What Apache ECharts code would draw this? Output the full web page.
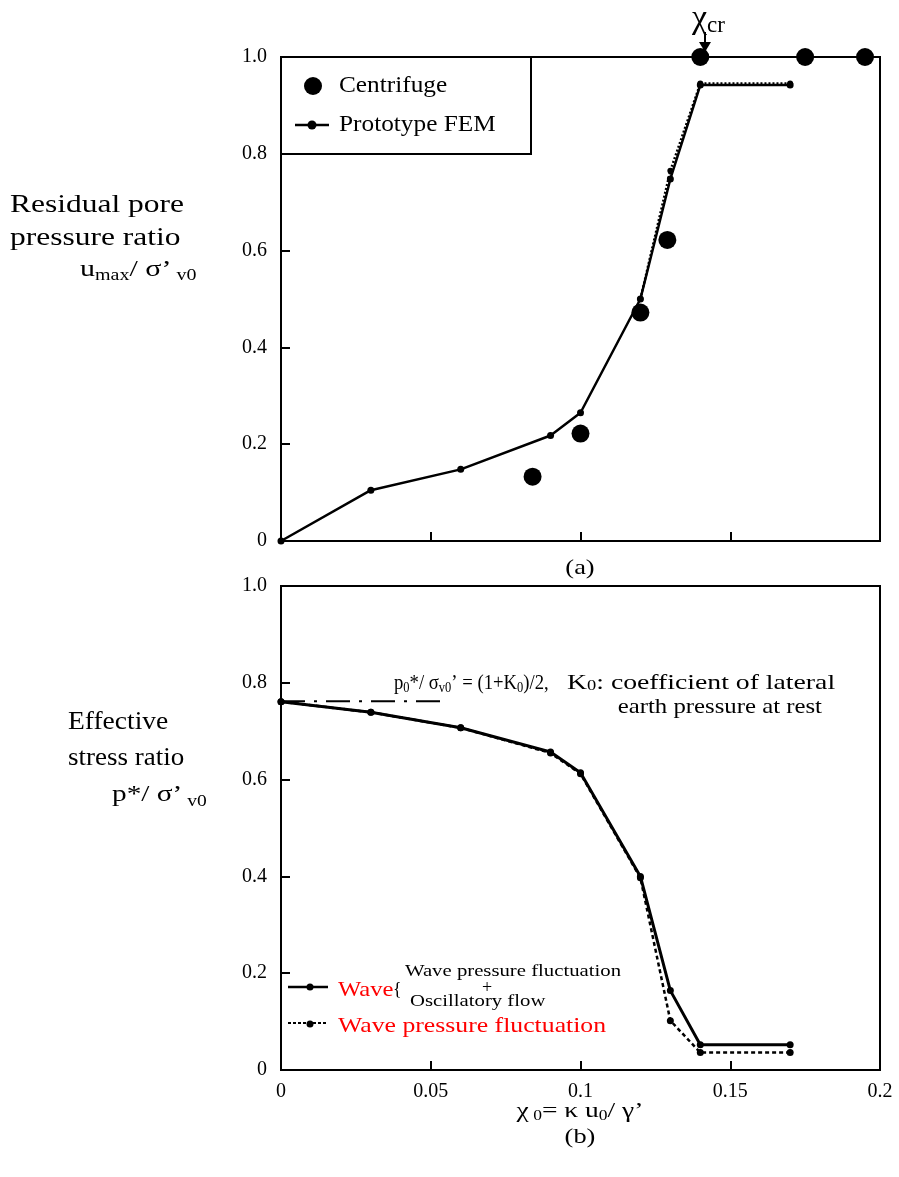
<!DOCTYPE html>
<html>
<head>
<meta charset="utf-8">
<script src="https://cdn.jsdelivr.net/npm/echarts@6/dist/echarts.min.js"></script>
<style>
  html, body { margin: 0; padding: 0; background: #fff; }
  #main { width: 899px; height: 1177px; }
</style>
</head>
<body>
<div id="main"></div>
<script>
// 数据
var yTicks = [0, 0.2, 0.4, 0.6, 0.8, 1.0];
var xTicks = [0, 0.05, 0.1, 0.15, 0.2];

// (a) 上图
var centrifuge = [[0.084, 0.133], [0.1, 0.222], [0.12, 0.472], [0.129, 0.622], [0.14, 1.0], [0.175, 1.0], [0.195, 1.0]];
var femSolidA = [[0, 0], [0.03, 0.105], [0.06, 0.148], [0.09, 0.218], [0.1, 0.265], [0.12, 0.5], [0.13, 0.748], [0.14, 0.942], [0.17, 0.942]];
var femDottedA = [[0.12, 0.5], [0.13, 0.765], [0.14, 0.945], [0.17, 0.945]];

// (b) 下图
var waveSolid = [[0, 0.761], [0.03, 0.739], [0.06, 0.707], [0.09, 0.657], [0.1, 0.614], [0.12, 0.4], [0.13, 0.164], [0.14, 0.052], [0.17, 0.052]];
var waveDotted = [[0, 0.761], [0.03, 0.739], [0.06, 0.707], [0.09, 0.655], [0.1, 0.612], [0.12, 0.397], [0.13, 0.102], [0.14, 0.036], [0.17, 0.036]];
var k0Line = [[0, 0.762], [0.055, 0.762]];

var serif = 'Liberation Serif';
var myChart = echarts.init(document.getElementById('main'));

function yAxisOpt(idx) {
    return {
        type: 'value', gridIndex: idx, min: 0, max: 1, interval: 0.2,
        axisLine: { show: true, lineStyle: { color: '#000', width: 2 } },
        axisTick: { show: true, inside: true, length: 9, lineStyle: { color: '#000', width: 2 } },
        axisLabel: {
            color: '#000', fontFamily: serif, fontSize: 20, margin: 14,
            formatter: function (v) { return v === 0 ? '0' : v.toFixed(1); }
        },
        splitLine: { show: false }
    };
}
function xAxisOpt(idx, showLabel) {
    return {
        type: 'value', gridIndex: idx, min: 0, max: 0.2, interval: 0.05,
        axisLine: { show: true, lineStyle: { color: '#000', width: 2 } },
        axisTick: { show: true, inside: true, length: 9, lineStyle: { color: '#000', width: 2 } },
        axisLabel: {
            show: showLabel, color: '#000', fontFamily: serif, fontSize: 20, margin: 12,
            formatter: function (v) { return String(+v.toFixed(2)); }
        },
        splitLine: { show: false }
    };
}

// 文字，sx 为横向拉伸（原图字体比 Times 宽）
function txt(x, y, text, size, sx, color, align) {
    return {
        type: 'text', x: x, y: y, scaleX: sx || 1,
        style: { text: text, fill: color || '#000', font: size + 'px "' + serif + '"', textVerticalAlign: 'middle', textAlign: align || 'left' }
    };
}
function richTxt(x, y, text, size, sub, sx, align) {
    return {
        type: 'text', x: x, y: y, scaleX: sx || 1,
        style: {
            text: text, textVerticalAlign: 'middle', textAlign: align || 'left',
            rich: {
                a: { font: size + 'px "' + serif + '"', fill: '#000' },
                s: { font: Math.round(size * 0.65) + 'px "' + serif + '"', fill: '#000', padding: [sub, 0, 0, 0] }
            }
        }
    };
}

var option = {
    animation: false,
    backgroundColor: '#fff',
    grid: [
        { left: 281, top: 57, width: 599, height: 484, show: true, borderColor: '#000', borderWidth: 2 },
        { left: 281, top: 586, width: 599, height: 484, show: true, borderColor: '#000', borderWidth: 2 }
    ],
    xAxis: [xAxisOpt(0, false), xAxisOpt(1, true)],
    yAxis: [yAxisOpt(0), yAxisOpt(1)],
    series: [
        {
            name: 'Prototype FEM dotted', type: 'line', xAxisIndex: 0, yAxisIndex: 0, data: femDottedA,
            symbol: 'circle', symbolSize: 6, itemStyle: { color: '#000' },
            lineStyle: { color: '#000', width: 2.5, type: [2, 2] }
        },
        {
            name: 'Prototype FEM', type: 'line', xAxisIndex: 0, yAxisIndex: 0, data: femSolidA,
            symbol: 'circle', symbolSize: 7, itemStyle: { color: '#000' },
            lineStyle: { color: '#000', width: 2.5 }
        },
        {
            name: 'Centrifuge', type: 'scatter', xAxisIndex: 0, yAxisIndex: 0, data: centrifuge,
            symbol: 'circle', symbolSize: 18, itemStyle: { color: '#000', opacity: 1 }
        },
        {
            name: 'K0', type: 'line', xAxisIndex: 1, yAxisIndex: 1, data: k0Line, symbol: 'none',
            lineStyle: { color: '#000', width: 2, type: [24, 9, 3, 9] }
        },
        {
            name: 'Wave pressure fluctuation', type: 'line', xAxisIndex: 1, yAxisIndex: 1, data: waveDotted,
            symbol: 'circle', symbolSize: 7, itemStyle: { color: '#000' },
            lineStyle: { color: '#000', width: 2.5, type: [4, 3] }
        },
        {
            name: 'Wave', type: 'line', xAxisIndex: 1, yAxisIndex: 1, data: waveSolid,
            symbol: 'circle', symbolSize: 7, itemStyle: { color: '#000' },
            lineStyle: { color: '#000', width: 3 }
        }
    ],
    graphic: [
        // 上图图例
        { type: 'rect', shape: { x: 281, y: 57, width: 250, height: 97 }, style: { fill: '#fff', stroke: '#000', lineWidth: 2 } },
        { type: 'circle', shape: { cx: 313, cy: 86, r: 9 }, style: { fill: '#000' } },
        txt(339, 86, 'Centrifuge', 23, 1.1),
        { type: 'line', shape: { x1: 295, y1: 125, x2: 329, y2: 125 }, style: { stroke: '#000', lineWidth: 2.5 } },
        { type: 'circle', shape: { cx: 312, cy: 125, r: 4.5 }, style: { fill: '#000' } },
        txt(339, 125, 'Prototype FEM', 23, 1.1),

        // χcr 标注
        { type: 'text', x: 692, y: 19, style: {
            text: '{a|χ}{b|cr}', textVerticalAlign: 'middle',
            rich: { a: { font: '34px "' + serif + '"', fill: '#000' }, b: { font: '23px "' + serif + '"', fill: '#000', padding: [14, 0, 0, 0] } }
        } },
        { type: 'line', shape: { x1: 705, y1: 32, x2: 705, y2: 48 }, style: { stroke: '#000', lineWidth: 2 } },
        { type: 'polygon', shape: { points: [[699, 42], [711, 42], [705, 52]] }, style: { fill: '#000' } },

        // 上图 y 轴标题
        txt(10, 205, 'Residual pore', 25, 1.26),
        txt(10, 238, 'pressure ratio', 25, 1.26),
        richTxt(80, 270, '{a|u}{s|max}{a|/ σ’}{s| v0}', 24, 12, 1.25),
        txt(580, 568, '(a)', 22, 1.2, '#000', 'center'),

        // 下图 y 轴标题
        txt(68, 722, 'Effective', 25, 1.1),
        txt(68, 758, 'stress ratio', 25, 1.08),
        richTxt(112, 795, '{a|p*/ σ’}{s| v0}', 24, 14, 1.22),

        // K0 注释
        richTxt(394, 683, '{a|p}{s|0}{a|*/ σ}{s|v0}{a|’ = (1+K}{s|0}{a|)/2,}', 21, 11, 0.89),
        richTxt(567, 683, '{a|K}{s|0}{a|: coefficient of lateral}', 21, 7, 1.32),
        txt(822, 707, 'earth pressure at rest', 21, 1.18, '#000', 'right'),

        // 下图图例
        { type: 'line', shape: { x1: 288, y1: 987, x2: 328, y2: 987 }, style: { stroke: '#000', lineWidth: 2.5 } },
        { type: 'circle', shape: { cx: 310, cy: 987, r: 3.5 }, style: { fill: '#000' } },
        txt(338, 990, 'Wave', 22, 1.12, '#f00'),
        txt(393, 990, '{', 18),
        txt(405, 972, 'Wave pressure fluctuation', 17, 1.22),
        txt(487, 988, '+', 18, 1, '#000', 'center'),
        txt(410, 1002, 'Oscillatory flow', 17, 1.22),
        { type: 'line', shape: { x1: 288, y1: 1023, x2: 328, y2: 1023 }, style: { stroke: '#000', lineWidth: 2, lineDash: [3, 2] } },
        { type: 'circle', shape: { cx: 310, cy: 1024, r: 3.5 }, style: { fill: '#000' } },
        txt(338, 1026, 'Wave pressure fluctuation', 22, 1.17, '#f00'),

        // x 轴标题
        richTxt(580, 1111, '{a|χ}{s| 0}{a|= κ u}{s|0}{a|/ γ’}', 22, 10, 1.25, 'center'),
        txt(580, 1137, '(b)', 22, 1.2, '#000', 'center')
    ]
};

myChart.setOption(option);
</script>
</body>
</html>
